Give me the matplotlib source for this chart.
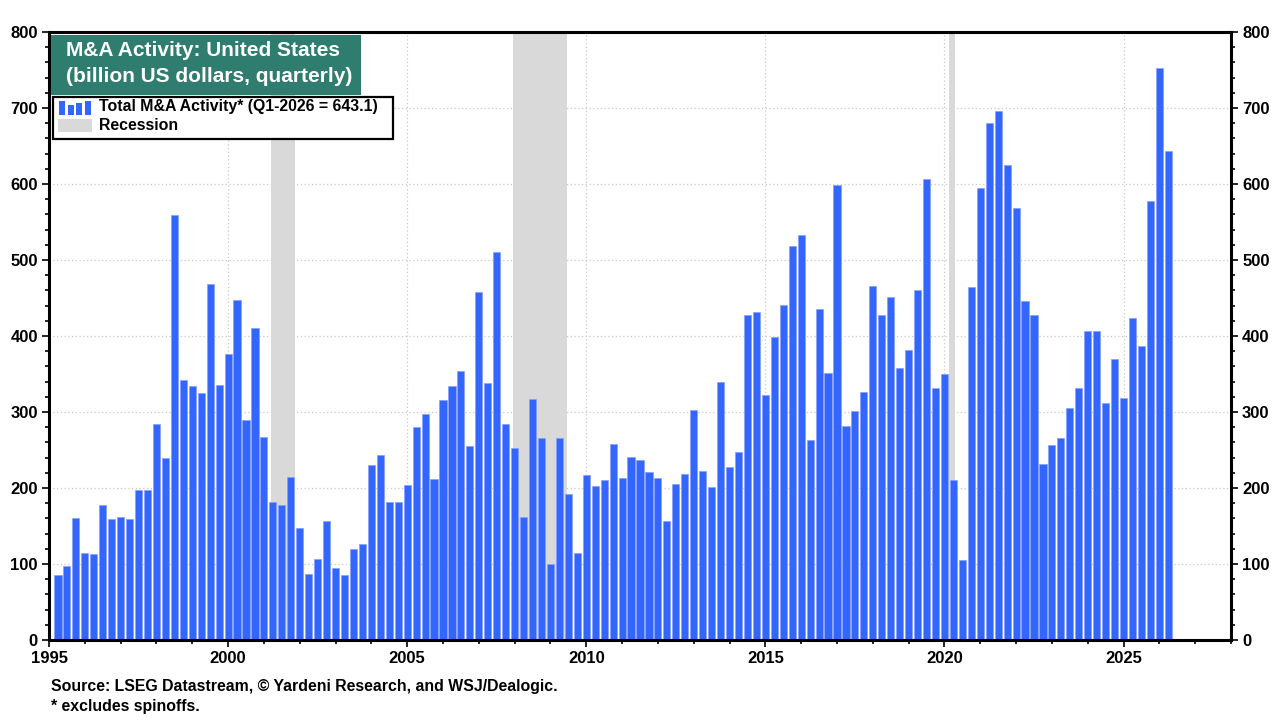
import matplotlib
matplotlib.use("Agg")
import matplotlib.pyplot as plt
import pandas as pd
from matplotlib.patches import Rectangle
from matplotlib.ticker import MultipleLocator

plt.rcParams["font.family"] = ["Liberation Sans", "DejaVu Sans"]
plt.rcParams["font.weight"] = "bold"

# quarterly US M&A activity, billion USD, 1995Q1 .. 2026Q1
quarters = pd.period_range("1995Q1", "2026Q1", freq="Q")
ma_activity = [
    85, 98, 160, 114,
    113, 178, 159, 162,
    159, 198, 197, 284,
    239, 559, 342, 334,
    325, 468, 336, 376,
    447, 290, 410, 267,
    182, 177, 215, 148,
    87, 106, 157, 95,
    85, 120, 126, 230,
    244, 181, 181, 204,
    280, 297, 212, 316,
    334, 354, 255, 458,
    338, 510, 284, 253,
    162, 317, 266, 100,
    266, 192, 115, 217,
    203, 210, 258, 213,
    241, 237, 221, 213,
    156, 205, 218, 302,
    223, 201, 339, 227,
    247, 427, 431, 322,
    399, 441, 518, 533,
    263, 436, 351, 599,
    282, 301, 326, 466,
    428, 451, 358, 382,
    461, 607, 331, 350,
    210, 105, 465, 595,
    680, 696, 625, 568,
    446, 427, 231, 256,
    266, 305, 331, 406,
    406, 312, 370, 319,
    424, 387, 578, 752,
    643.1,
]
recession_start = ["2001-03", "2007-12", "2020-02"]
recession_end = ["2001-11", "2009-06", "2020-04"]

BLUE = "#3366ff"
GREY = "#d9d9d9"
TEAL = "#2e7d6f"


def dec_year(ym):
    t = pd.Timestamp(ym) + pd.Timedelta(days=14)
    return t.year + (t.dayofyear - 1) / 365.25


# bars dated at quarter end
x = [q.year + q.quarter / 4 for q in quarters]

W, H = 1280, 720
fig = plt.figure(figsize=(12.8, 7.2), dpi=100)
ax = fig.add_axes([49 / W, 1 - 640 / H, (1231 - 49) / W, (640 - 32) / H])

for s, e in zip(recession_start, recession_end):
    ax.axvspan(dec_year(s), dec_year(e), color=GREY, lw=0, zorder=1)

ax.bar(x, ma_activity, width=0.2, color=BLUE, edgecolor="#86a0ff", linewidth=0.5, zorder=2)

ax.set_xlim(1995, 2028)
ax.set_ylim(0, 800)
ax.xaxis.set_major_locator(MultipleLocator(5))
ax.xaxis.set_minor_locator(MultipleLocator(1))
ax.yaxis.set_major_locator(MultipleLocator(100))
ax.yaxis.set_minor_locator(MultipleLocator(20))
ax.grid(True, which="major", ls=(0, (1, 2)), color="#c8c8c8", lw=0.9, zorder=0)
ax.set_axisbelow(True)

ax.tick_params(which="both", direction="out", labelsize=12, width=1.2, colors="black",
               right=True, labelright=True)
ax.tick_params(which="major", length=5, pad=3)
ax.tick_params(which="minor", length=3)
for lab in ax.get_xticklabels() + ax.get_yticklabels():
    lab.set_fontweight("bold")
for side in ax.spines.values():
    side.set_linewidth(2.2)


def fx(px):
    return px / W


def fy(py):
    return 1 - py / H


# title box
fig.patches.append(Rectangle((fx(51), fy(95)), fx(361) - fx(51), fy(35) - fy(95),
                             transform=fig.transFigure, facecolor=TEAL, edgecolor="none", zorder=5))
fig.text(fx(66), fy(50), "M&A Activity: United States", color="white", fontsize=15,
         fontweight="bold", va="center", ha="left", zorder=6)
fig.text(fx(66), fy(77), "(billion US dollars, quarterly)", color="white", fontsize=15,
         fontweight="bold", va="center", ha="left", zorder=6)

# legend box
fig.patches.append(Rectangle((fx(53), fy(139)), fx(393) - fx(53), fy(97) - fy(139),
                             transform=fig.transFigure, facecolor="white", edgecolor="black",
                             lw=1.6, zorder=5))
for i, hgt in enumerate([14, 10, 12, 14]):
    fig.patches.append(Rectangle((fx(59 + i * 8.5), fy(115)), fx(6), hgt / H,
                                 transform=fig.transFigure, facecolor=BLUE, edgecolor="none", zorder=6))
fig.patches.append(Rectangle((fx(58), fy(132)), fx(34), 13 / H,
                             transform=fig.transFigure, facecolor=GREY, edgecolor="none", zorder=6))
fig.text(fx(99), fy(107), "Total M&A Activity* (Q1-2026 = 643.1)", fontsize=11.4,
         fontweight="bold", va="center", ha="left", zorder=7)
fig.text(fx(99), fy(125), "Recession", fontsize=11.4, fontweight="bold", va="center", ha="left", zorder=7)

fig.text(fx(51), fy(686), "Source: LSEG Datastream, \u00a9 Yardeni Research, and WSJ/Dealogic.",
         fontsize=11.4, fontweight="bold", va="center", ha="left")
fig.text(fx(51), fy(706), "* excludes spinoffs.", fontsize=11.4, fontweight="bold", va="center", ha="left")

fig.savefig("out.png", dpi=100)
